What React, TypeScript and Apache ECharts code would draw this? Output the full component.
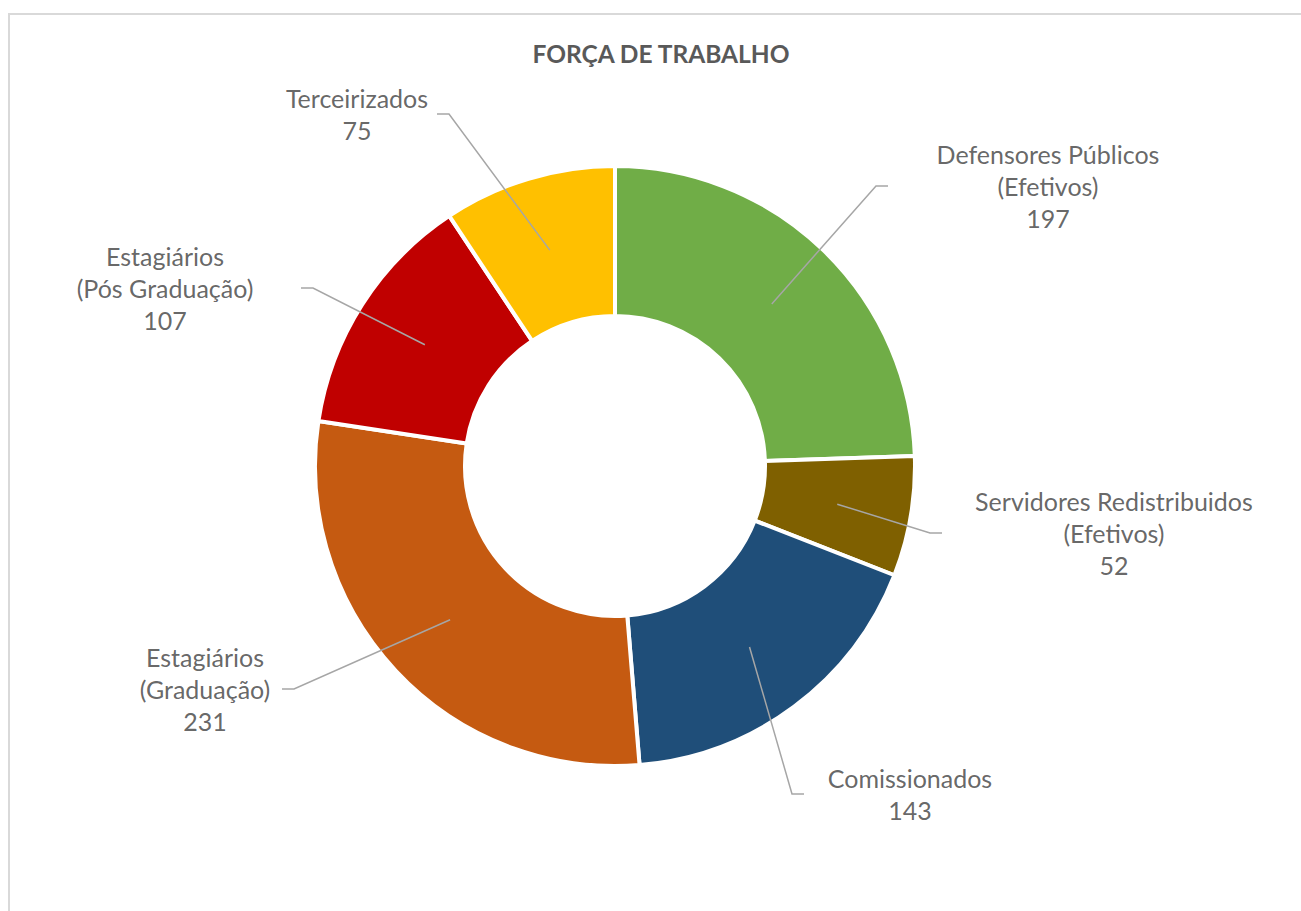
import { useEffect, useRef } from 'react';
import * as echarts from 'echarts';

const titleText = 'FORÇA DE TRABALHO';
const categories = [
  'Defensores Públicos\n(Efetivos)',
  'Servidores Redistribuidos\n(Efetivos)',
  'Comissionados',
  'Estagiários\n(Graduação)',
  'Estagiários\n(Pós Graduação)',
  'Terceirizados',
];
const values = [197, 52, 143, 231, 107, 75];
const colors = ['#70AD47', '#7F6000', '#1F4E79', '#C55A11', '#C00000', '#FFC000'];

// layout only (pixel placement of the label boxes)
const CENTER = [615, 466];
const RING = { inner: 150, outer: 300 };
const labelBoxes = [
  { edge: 888, y: 186, align: 'left', textCenter: 1048 },
  { edge: 942, y: 533, align: 'left', textCenter: 1114 },
  { edge: 804, y: 794, align: 'left', textCenter: 910 },
  { edge: 282, y: 689, align: 'right', textCenter: 205 },
  { edge: 301, y: 288, align: 'right', textCenter: 165 },
  { edge: 437, y: 114, align: 'right', textCenter: 357 },
];

const FONT = 'Lato, "Noto Sans", sans-serif';
const LABEL_SIZE = 25;
const LINE_H = 32;

export default function App() {
  const ref = useRef<HTMLDivElement>(null);
  useEffect(() => {
    if (!ref.current) return;
    const chart = echarts.init(ref.current, undefined, { renderer: 'svg' });
    const total = values.reduce((a, b) => a + b, 0);
    const anchorR = (RING.inner + RING.outer) / 2;
    let cum = 0;
    const anchors = values.map((v, i) => {
      const mid = cum + v / 2;
      cum += v;
      return { name: categories[i], value: [anchorR, mid] };
    });
    const rich: Record<string, any> = {};
    labelBoxes.forEach((b, i) => {
      const w = 2 * Math.abs(b.textCenter - b.edge);
      rich['t' + i] = {
        width: w,
        align: 'center',
        fontFamily: FONT,
        fontSize: LABEL_SIZE,
        lineHeight: LINE_H,
        color: '#404040',
      };
    });
    chart.setOption({
      animation: false,
      backgroundColor: '#ffffff',
      graphic: [
        {
          type: 'rect',
          silent: true,
          z: -10,
          shape: { x: 9, y: 14, width: 1400, height: 1000 },
          style: { fill: 'none', stroke: '#D9D9D9', lineWidth: 2 },
        },
        {
          type: 'text',
          x: 661,
          y: 53,
          silent: true,
          style: {
            text: titleText,
            fontFamily: FONT,
            fontSize: 24.5,
            fontWeight: 'bold',
            fill: '#595959',
            align: 'center',
            verticalAlign: 'middle',
          },
        },
      ],
      polar: { center: CENTER, radius: RING.outer },
      angleAxis: {
        type: 'value',
        min: 0,
        max: total,
        startAngle: 90,
        clockwise: true,
        axisLine: { show: false },
        axisTick: { show: false },
        axisLabel: { show: false },
        splitLine: { show: false },
      },
      radiusAxis: {
        type: 'value',
        min: 0,
        max: RING.outer,
        axisLine: { show: false },
        axisTick: { show: false },
        axisLabel: { show: false },
        splitLine: { show: false },
      },
      series: [
        {
          type: 'pie',
          center: CENTER,
          radius: [RING.inner, RING.outer],
          startAngle: 90,
          clockwise: true,
          silent: true,
          label: { show: false },
          labelLine: { show: false },
          itemStyle: { borderColor: '#ffffff', borderWidth: 4 },
          data: values.map((v, i) => ({
            name: categories[i],
            value: v,
            itemStyle: { color: colors[i] },
          })),
        },
        {
          type: 'scatter',
          coordinateSystem: 'polar',
          silent: true,
          z: 10,
          symbol: 'circle',
          symbolSize: 1,
          itemStyle: { color: 'rgba(0,0,0,0)' },
          data: anchors,
          label: {
            show: true,
            color: '#404040',
            fontFamily: FONT,
            fontSize: LABEL_SIZE,
            lineHeight: LINE_H,
            formatter: (p: any) => {
              const lines = categories[p.dataIndex].split('\n');
              lines.push(String(values[p.dataIndex]));
              return lines.map((l) => `{t${p.dataIndex}|${l}}`).join('\n');
            },
            rich,
          },
          labelLine: {
            show: true,
            length2: 12,
            lineStyle: { color: '#A6A6A6', width: 1.5 },
          },
          labelLayout: (params: any) => {
            const b = labelBoxes[params.dataIndex];
            return { x: b.edge, y: b.y, align: b.align, verticalAlign: 'middle' };
          },
        },
      ],
    });
    return () => chart.dispose();
  }, []);
  return (
    <div
      ref={ref}
      style={{ position: 'fixed', left: 0, top: 0, width: 1301, height: 911 }}
    />
  );
}
